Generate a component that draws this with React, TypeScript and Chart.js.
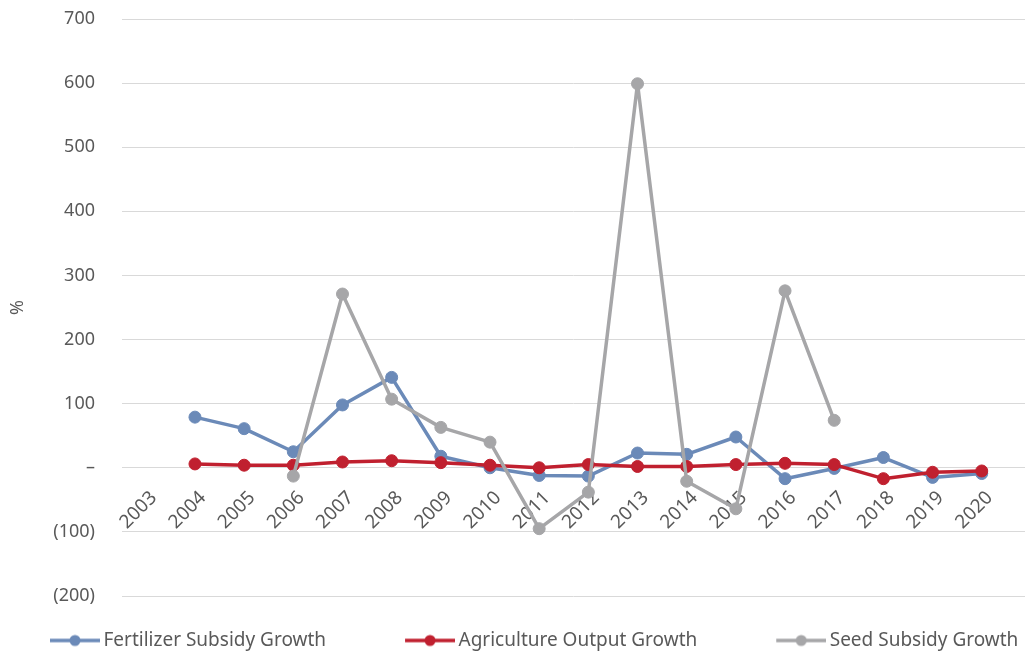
import React, { useEffect, useRef } from "react";
import { Chart, registerables } from "chart.js";

Chart.register(...registerables);

const years = [2003, 2004, 2005, 2006, 2007, 2008, 2009, 2010, 2011, 2012, 2013, 2014, 2015, 2016, 2017, 2018, 2019, 2020];
const fertilizerSubsidyGrowth = [null, 79, 61, 25, 98, 141, 18, 0, -12, -13, 23, 21, 48, -17, -1, 16, -15, -9];
const agricultureOutputGrowth = [null, 6, 4, 4, 9, 11, 8, 4, 0, 5, 2, 2, 5, 7, 5, -17, -7, -5];
const seedSubsidyGrowth = [null, null, null, -13, 271, 107, 63, 40, -95, -38, 599, -21, -64, 276, 74, null, null, null];

const seriesNames = ["Fertilizer Subsidy Growth", "Agriculture Output Growth", "Seed Subsidy Growth"];
const seriesColors = ["#6b8ab8", "#c0202f", "#a6a6a8"];
const yTickValues = [-200, -100, 0, 100, 200, 300, 400, 500, 600, 700];

const FONT = "'Noto Sans', sans-serif";
const TEXT = "#595959";
const LEG_BOX = 88;
const LEG_PAD = 35;
const PAD_LEFT = -29;

function makeMarker(color: string) {
  const w = LEG_BOX + 12;
  const c = document.createElement("canvas");
  c.width = w;
  c.height = 14;
  const ctx = c.getContext("2d")!;
  ctx.strokeStyle = color;
  ctx.lineWidth = 3.5;
  ctx.beginPath();
  ctx.moveTo(w - 50, 7);
  ctx.lineTo(w, 7);
  ctx.stroke();
  ctx.fillStyle = color;
  ctx.beginPath();
  ctx.arc(w - 25, 7, 5.5, 0, Math.PI * 2);
  ctx.fill();
  return c;
}

function fmtY(v: number) {
  if (v === 0) return "–";
  if (v < 0) return "(" + -v + ")";
  return String(v);
}

export default function App() {
  const ref = useRef<HTMLCanvasElement | null>(null);
  useEffect(() => {
    if (!ref.current) return;
    const markers = seriesColors.map(makeMarker);
    const series = [fertilizerSubsidyGrowth, agricultureOutputGrowth, seedSubsidyGrowth];
    const orders = [2, 1, 0];
    const chart = new Chart(ref.current, {
      type: "line",
      data: {
        datasets: series.map((vals, i) => ({
          label: seriesNames[i],
          data: years.map((x, j) => ({ x, y: vals[j] })),
          borderColor: seriesColors[i],
          backgroundColor: seriesColors[i],
          pointBackgroundColor: seriesColors[i],
          pointBorderColor: seriesColors[i],
          borderWidth: 3.5,
          borderJoinStyle: "round" as const,
          borderCapStyle: "round" as const,
          pointRadius: 6,
          pointBorderWidth: 1,
          tension: 0,
          spanGaps: false,
          order: orders[i],
        })),
      },
      options: {
        animation: false,
        responsive: false,
        maintainAspectRatio: false,
        layout: { autoPadding: false, padding: { top: 19, right: -80, bottom: -5, left: PAD_LEFT } },
        scales: {
          x: {
            type: "linear",
            position: { y: 0 } as any,
            min: 2002.516,
            max: 2020.88,
            grid: { display: false },
            border: { display: false },
            afterBuildTicks: (s: any) => {
              s.ticks = years.map((value) => ({ value }));
            },
            afterFit: (s: any) => {
              s.paddingLeft = 0;
              s.paddingRight = 0;
            },
            ticks: {
              autoSkip: false,
              minRotation: 45,
              maxRotation: 45,
              padding: 11,
              labelOffset: 8,
              color: TEXT,
              font: { family: FONT, size: 19 },
              callback: (v: any) => String(v),
            },
          },
          y: {
            type: "linear",
            min: -200,
            max: 700,
            grid: { color: "#d9d9d9", lineWidth: 1, drawTicks: true, tickLength: 24, tickColor: "rgba(0,0,0,0)" },
            border: { display: false },
            afterFit: (s: any) => {
              s.width = 122 - PAD_LEFT;
            },
            afterBuildTicks: (s: any) => {
              s.ticks = yTickValues.map((value) => ({ value }));
            },
            ticks: {
              padding: 3,
              color: TEXT,
              font: { family: FONT, size: 18 },
              callback: (v: any) => fmtY(Number(v)),
            },
            title: {
              display: true,
              text: "%",
              color: TEXT,
              font: { family: FONT, size: 18 },
              padding: { top: 36, bottom: 0 },
            },
          },
        },
        plugins: {
          tooltip: { enabled: false },
          legend: {
            position: "bottom",
            align: "start",
            labels: {
              usePointStyle: true,
              pointStyleWidth: LEG_BOX,
              padding: LEG_PAD,
              color: TEXT,
              font: { family: FONT, size: 19 },
              sort: (a: any, b: any) => a.datasetIndex - b.datasetIndex,
              generateLabels: (c: any) => {
                const items = (Chart.defaults.plugins.legend.labels as any).generateLabels(c);
                return items.map((it: any) => ({ ...it, pointStyle: markers[it.datasetIndex] }));
              },
            },
          },
        },
      },
    });
    return () => chart.destroy();
  }, []);
  return (
    <div style={{ position: "fixed", left: 0, top: 0, width: 1025, height: 655, background: "#fff", overflow: "hidden" }}>
      <canvas ref={ref} width={1025} height={655} style={{ display: "block", width: 1025, height: 655 }} />
    </div>
  );
}
